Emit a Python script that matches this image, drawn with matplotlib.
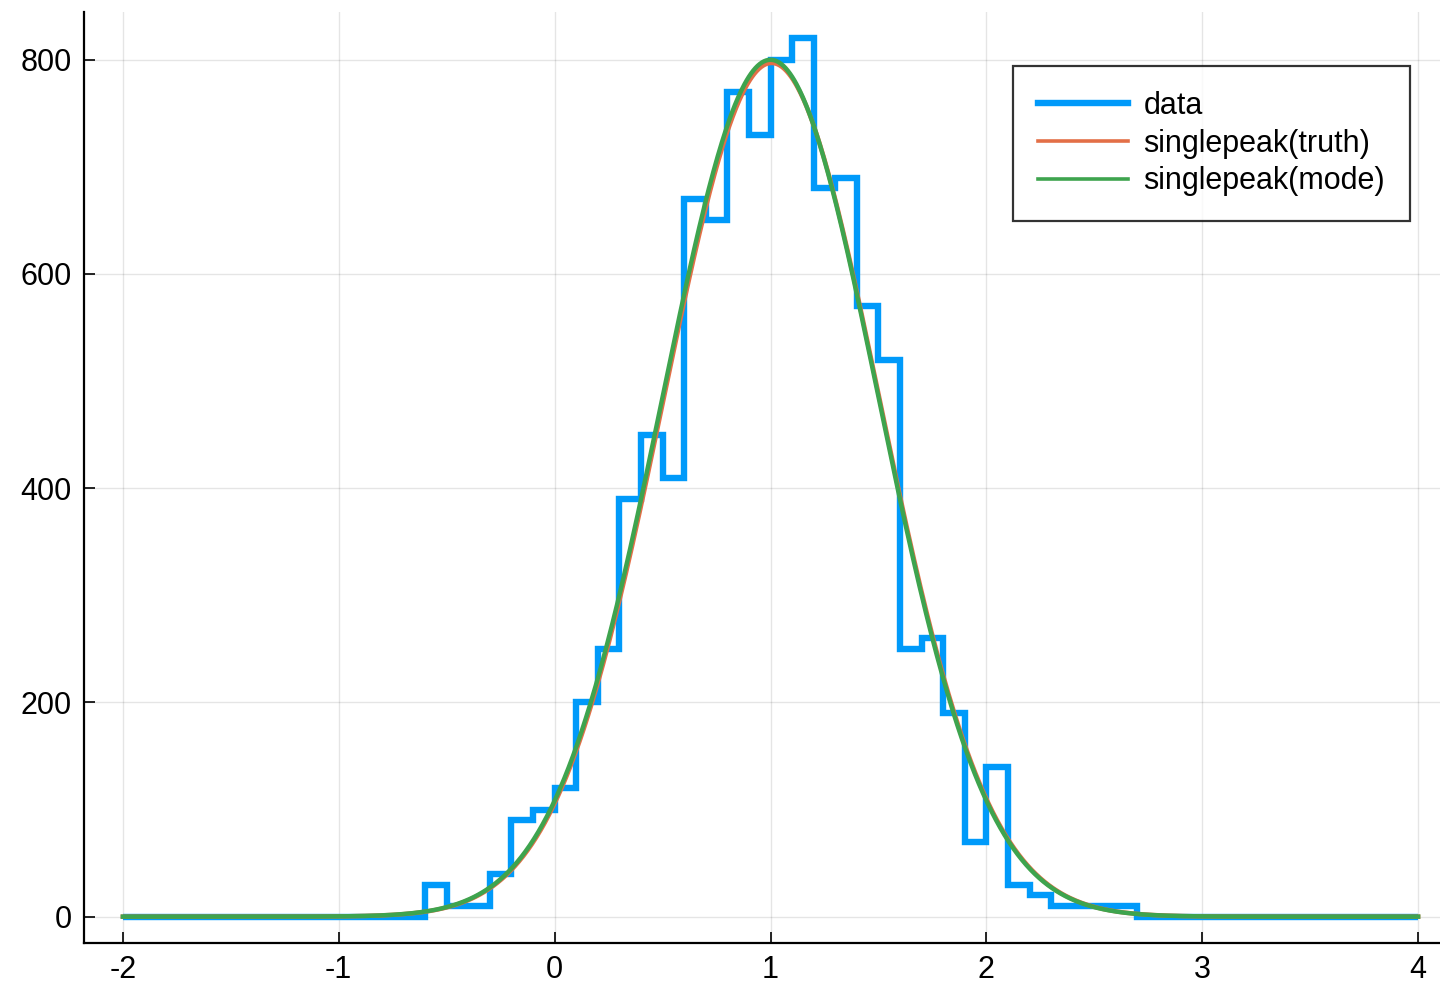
import numpy as np
import matplotlib
matplotlib.use('Agg')
import matplotlib.pyplot as plt

plt.rcParams['font.family'] = ['Liberation Sans', 'DejaVu Sans']

# ヒストグラム（ビン幅0.1、-2〜4）
bin_edges = np.round(np.linspace(-2.0, 4.0, 61), 1)
counts = [0] * 14 + [
    30, 10, 10, 40, 90, 100, 120, 200, 250, 390,
    450, 410, 670, 650, 770, 730, 800, 820, 680, 690,
    570, 520, 250, 260, 190, 70, 140, 30, 20, 10,
    10, 10, 10,
] + [0] * 13

# singlepeak モデルのパラメータ
truth_params = {'amp': 797.0, 'center': 1.005, 'width': 0.5}
mode_params = {'amp': 800.0, 'center': 1.0, 'width': 0.5}

x_ticks = [-2, -1, 0, 1, 2, 3, 4]
x_tick_labels = ['-2', '-1', '0', '1', '2', '3', '4']
y_ticks = [0, 200, 400, 600, 800]


def singlepeak(x, amp, center, width):
    return amp * np.exp(-(x - center) ** 2 / (2 * width ** 2))


fig = plt.figure(figsize=(14.4, 9.84), dpi=100)
W, H = 1440, 984
left, right, top, bottom = 84, 1457, 12, 943
ax = fig.add_axes([left / W, 1 - bottom / H, (right - left) / W, (bottom - top) / H])

xs = np.linspace(-2, 4, 1201)
ax.stairs(counts, bin_edges, baseline=None, color='#009AFA', linewidth=4.6,
          label='data', zorder=3)
ax.plot(xs, singlepeak(xs, **truth_params), color='#E36F47', linewidth=3.2,
        label='singlepeak(truth)', zorder=4)
ax.plot(xs, singlepeak(xs, **mode_params), color='#3EA44E', linewidth=3.2,
        label='singlepeak(mode)', zorder=5)

ax.set_xlim(-2.18, 4.18)
ax.set_ylim(-24.6, 844.6)
ax.set_xticks(x_ticks)
ax.set_xticklabels(x_tick_labels)
ax.set_yticks(y_ticks)

for s in ['top', 'right']:
    ax.spines[s].set_visible(False)
for s in ['left', 'bottom']:
    ax.spines[s].set_linewidth(1.6)
    ax.spines[s].set_color('black')

ax.tick_params(direction='in', length=8, width=1.2, labelsize=22, pad=9)
ax.grid(True, color='black', alpha=0.1, linewidth=1.0)
ax.set_axisbelow(True)

leg = ax.legend(loc='upper left', bbox_to_anchor=((1013 - left) / (right - left), 1 - (66 - top) / (bottom - top)),
                fontsize=22, frameon=True, fancybox=False, edgecolor='black',
                handlelength=2.95, handletextpad=0.5, borderpad=0.82, labelspacing=0.25,
                borderaxespad=0)
leg.get_frame().set_linewidth(1.6)
for line, lw in zip(leg.get_lines(), [4.6, 2.6, 2.6]):
    line.set_linewidth(lw)

fig.savefig('out.png', dpi=100)
